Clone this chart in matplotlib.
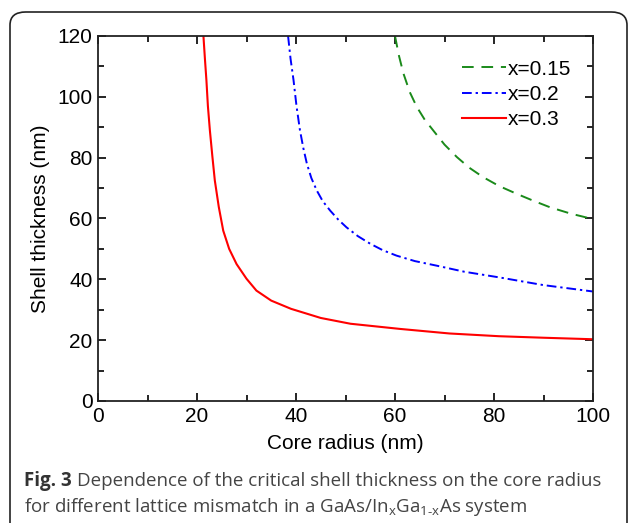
import matplotlib
matplotlib.use("Agg")
import matplotlib.pyplot as plt
from matplotlib.patches import FancyBboxPatch

plt.rcParams['font.family'] = ['Liberation Sans', 'DejaVu Sans']
plt.rcParams['mathtext.fontset'] = 'custom'
plt.rcParams['mathtext.rm'] = 'Open Sans'

# core radius (nm) vs critical shell thickness (nm)
r_015 = [60, 60.8, 61.7, 63, 64.4, 66, 67.7, 70, 72.5, 75, 77.8, 81, 84.6, 88, 91.3, 95.5, 100]
h_015 = [120, 113.5, 107.7, 101.5, 96.7, 92.5, 89, 84.3, 80.2, 76.7, 73.6, 70.7, 68.1, 65.8, 63.7, 61.6, 59.8]

r_02 = [38.4, 38.9, 39.5, 40.1, 40.8, 41.5, 42.2, 43.1, 44.2, 45.4, 46.9, 48.5, 50.2, 52.5,
        55, 57.5, 60.3, 64, 68.4, 74, 81.2, 90, 100]
h_02 = [120, 112.5, 105.5, 97, 89, 83, 78, 73.3, 69.2, 65.7, 62.6, 59.7, 57.1, 54.2,
        51.7, 49.6, 47.8, 46, 44.5, 42.5, 40.6, 38.1, 36]

r_03 = [21.3, 21.6, 21.9, 22.2, 22.6, 23.1, 23.6, 24.4, 25.3, 26.5, 28, 30, 32, 35, 39, 45,
        51, 61, 71, 81, 90, 100]
h_03 = [120, 112.5, 105.5, 97, 89, 80.5, 72.5, 63.8, 56, 50, 45, 40.2, 36.3, 33, 30.3, 27.3,
        25.4, 23.7, 22.2, 21.3, 20.8, 20.3]

fig = plt.figure(figsize=(6.29, 5.23), dpi=100)

# rounded frame around figure + caption
box = FancyBboxPatch((10 / 629, -0.05), 617 / 629, 1 - 12 / 523 + 0.05,
                     boxstyle="round,pad=0,rounding_size=0.025",
                     transform=fig.transFigure, fill=False,
                     edgecolor='#222222', linewidth=1.2, clip_on=False)
fig.patches.append(box)

ax = fig.add_axes([98 / 629, 1 - 401 / 523, 495 / 629, 365 / 523])
ax.plot(r_015, h_015, color='#1a8a1a', lw=1.4, dashes=(6, 4), label='x=0.15')
ax.plot(r_02, h_02, color='#0000ff', lw=1.4, dashes=(5, 2, 1.2, 2), label='x=0.2')
ax.plot(r_03, h_03, color='#ff0000', lw=1.5, label='x=0.3')

ax.set_xlim(0, 100)
ax.set_ylim(0, 120)
ax.set_xticks(range(0, 101, 20))
ax.set_xticks(range(10, 100, 20), minor=True)
ax.set_yticks(range(0, 121, 20))
ax.set_yticks(range(10, 120, 20), minor=True)
ax.tick_params(which='both', direction='in', top=True, right=True,
               labelsize=15, width=1.2)
ax.tick_params(axis='x', which='both', pad=4)
ax.tick_params(axis='y', which='both', pad=4)
ax.tick_params(which='major', length=6)
ax.tick_params(which='minor', length=4.5)
for s in ax.spines.values():
    s.set_linewidth(1.3)
    s.set_color('#222222')

ax.set_xlabel('Core radius (nm)', fontsize=15, labelpad=6)
ax.set_ylabel('Shell thickness (nm)', fontsize=15, labelpad=5)

ax.legend(loc='upper right', frameon=False, fontsize=15, handlelength=2.1,
          handletextpad=0.1, labelspacing=0.3, borderaxespad=0.3,
          bbox_to_anchor=(0.985, 0.975))

# caption
cap_size = 13.5
y1 = 1 - 486 / 523
y2 = 1 - 512 / 523
t_bold = fig.text(24 / 629, y1, 'Fig. 3', fontsize=cap_size, weight='bold',
                  color='#333333', va='baseline', family='Open Sans')
fig.canvas.draw()
bb = t_bold.get_window_extent()
fig.text(bb.x1 / fig.bbox.width + 5 / 629, y1,
         'Dependence of the critical shell thickness on the core radius',
         fontsize=cap_size, color='#444444', va='baseline', family='Open Sans')
fig.text(24 / 629, y2,
         r'for different lattice mismatch in a GaAs/In$_\mathrm{x}$Ga$_\mathrm{1‐x}$As system',
         fontsize=cap_size, color='#444444', va='baseline', family='Open Sans')

fig.savefig('out.png', dpi=100)
